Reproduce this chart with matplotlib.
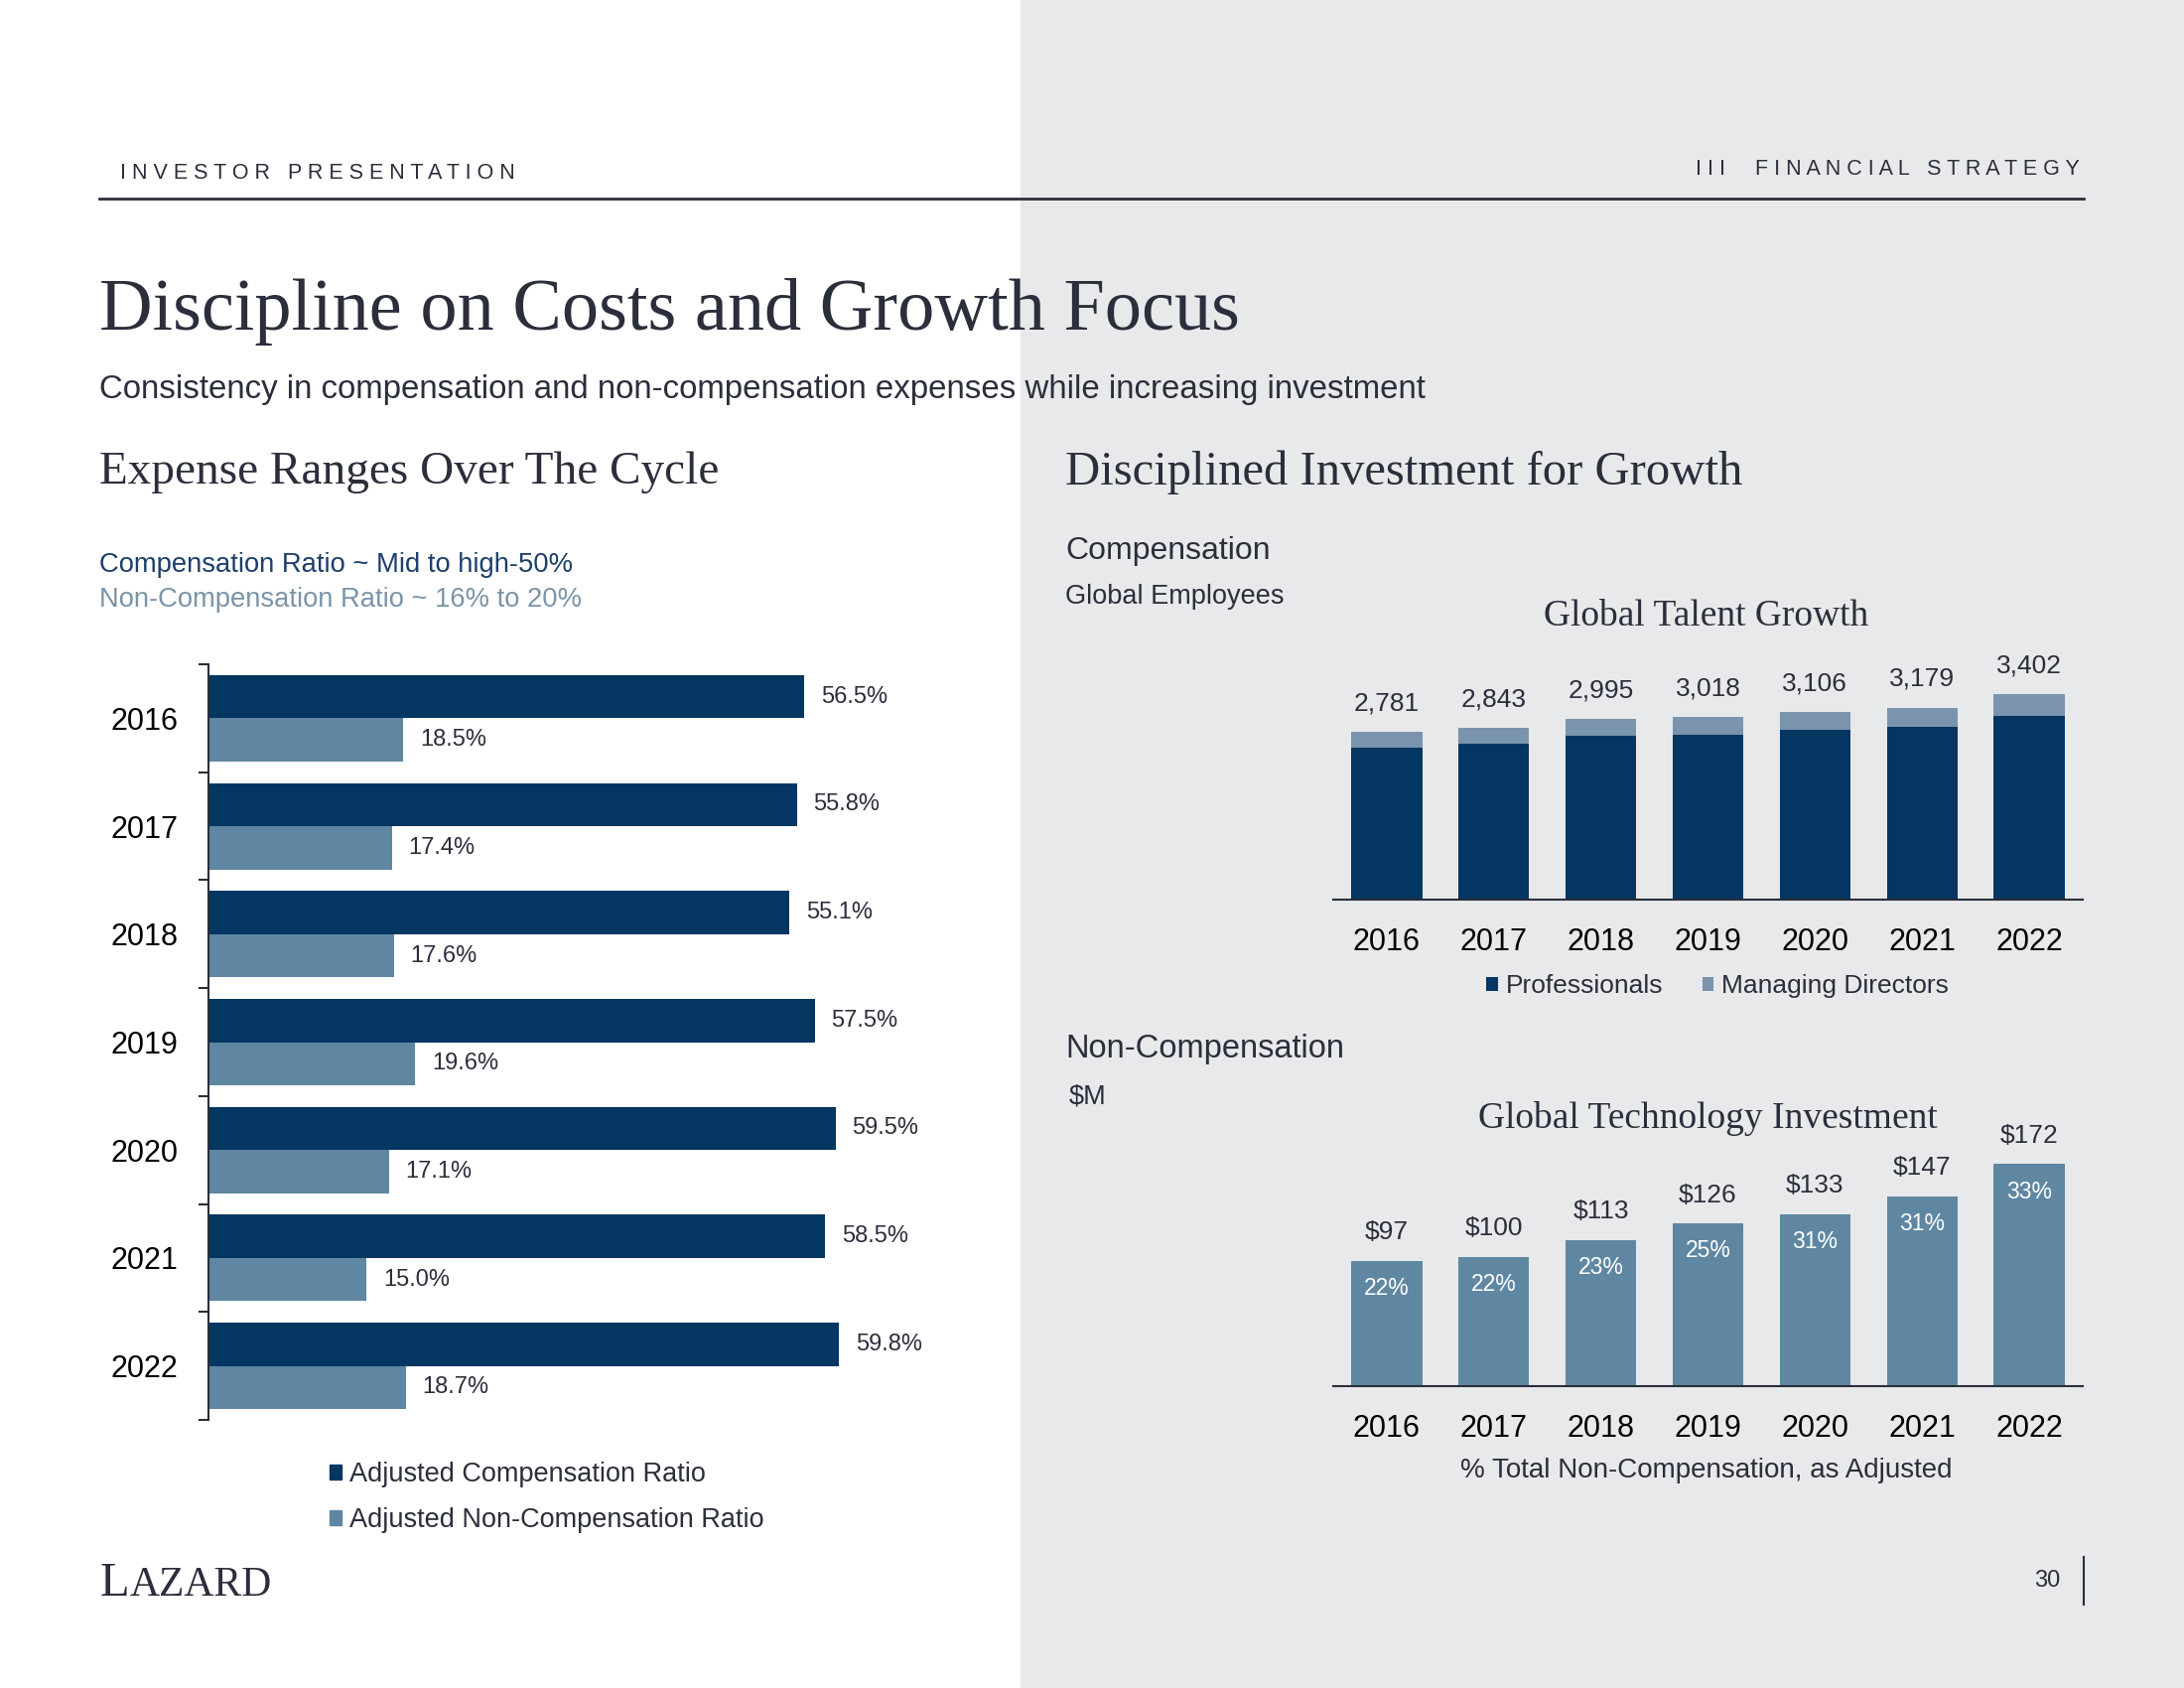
import numpy as np
import matplotlib
matplotlib.use('Agg')
import matplotlib.pyplot as plt
from matplotlib.patches import Rectangle, Patch

# data
years = ['2016', '2017', '2018', '2019', '2020', '2021', '2022']
comp_ratio = [56.5, 55.8, 55.1, 57.5, 59.5, 58.5, 59.8]
noncomp_ratio = [18.5, 17.4, 17.6, 19.6, 17.1, 15.0, 18.7]
employees_total = [2781, 2843, 2995, 3018, 3106, 3179, 3402]
managing_directors = [262, 262, 279, 284, 295, 317, 360]   # estimated from bar segments
tech_invest = [97, 100, 113, 126, 133, 147, 172]
tech_pct = [22, 22, 23, 25, 31, 31, 33]

NAVY = '#033661'
STEEL = '#5f87a2'
MDCOL = '#7a94ad'
TEXT = '#2b2e3b'
GRAY_BG = '#e8e9eb'
SANS = ['Liberation Sans', 'DejaVu Sans']
SERIF = ['Liberation Serif', 'DejaVu Serif']

plt.rcParams['font.family'] = SANS
plt.rcParams['text.color'] = TEXT

W, H = 2200, 1700


def fx(x):
    return x / W


def fy(y):
    return 1 - y / H


def box(x0, y0, x1, y1):
    return [fx(x0), fy(y1), (x1 - x0) / W, (y1 - y0) / H]


fig = plt.figure(figsize=(22, 17), dpi=100)
fig.patch.set_facecolor('white')
fig.add_artist(Rectangle((fx(1028), 0), 1 - fx(1028), 1, transform=fig.transFigure,
                         color=GRAY_BG, zorder=-10))

# header
fig.text(fx(121), fy(174), 'I N V E S T O R   P R E S E N T A T I O N', size=15.5, va='center')
fig.text(fx(2095), fy(171), 'I I I     F I N A N C I A L   S T R A T E G Y', size=15.5,
         va='center', ha='right')
fig.add_artist(plt.Line2D([fx(100), fx(2099)], [fy(200), fy(200)], transform=fig.transFigure,
                          color=TEXT, lw=2))

fig.text(fx(100), fy(314), 'Discipline on Costs and Growth Focus', size=53.5, family=SERIF,
         va='center')
fig.text(fx(100), fy(393), 'Consistency in compensation and non-compensation expenses while increasing investment',
         size=23.8, va='center')
fig.text(fx(100), fy(476), 'Expense Ranges Over The Cycle', size=34, family=SERIF, va='center')
fig.text(fx(1073), fy(476), 'Disciplined Investment for Growth', size=35, family=SERIF, va='center')

fig.text(fx(100), fy(569), 'Compensation Ratio ~ Mid to high-50%', size=19.7, color='#1d3f6b', va='center')
fig.text(fx(100), fy(604), 'Non-Compensation Ratio ~ 16% to 20%', size=19.7, color='#7b94a8', va='center')

fig.text(fx(1073), fy(555), 'Compensation', size=23, va='center')
fig.text(fx(1073), fy(601), 'Global Employees', size=19.5, va='center')
fig.text(fx(1073), fy(1057), 'Non-Compensation', size=23.5, va='center')
fig.text(fx(1077), fy(1104), '$M', size=19.5, va='center')

fig.text(fx(1719), fy(621), 'Global Talent Growth', size=27, family=SERIF, ha='center', va='center')
fig.text(fx(1720), fy(1126), 'Global Technology Investment', size=27, family=SERIF, ha='center', va='center')

pos = np.arange(len(years))

# left: horizontal ratio bars
ax1 = fig.add_axes(box(210, 669, 1110, 1430))
ax1.set_facecolor('none')
b1 = ax1.barh(pos - 0.2, comp_ratio, height=0.4, color=NAVY)
b2 = ax1.barh(pos + 0.2, noncomp_ratio, height=0.4, color=STEEL)
ax1.bar_label(b1, labels=['%.1f%%' % v for v in comp_ratio], padding=12, size=17)
ax1.bar_label(b2, labels=['%.1f%%' % v for v in noncomp_ratio], padding=12, size=17)
ax1.set_ylim(6.5, -0.5)
ax1.set_xlim(0, 900 / 10.62)
ax1.set_yticks(pos)
ax1.set_yticklabels(years, size=22)
ax1.set_yticks(np.arange(-0.5, 7, 1), minor=True)
ax1.tick_params(axis='y', which='major', length=0, pad=22)
ax1.tick_params(axis='y', which='minor', length=7, width=1.5, color=TEXT)
ax1.set_xticks([])
for s in ['top', 'right', 'bottom']:
    ax1.spines[s].set_visible(False)
ax1.spines['left'].set_color(TEXT)
ax1.spines['left'].set_linewidth(1.5)
ax1.legend(handles=[Patch(color=NAVY, label='Adjusted Compensation Ratio'),
                    Patch(color=STEEL, label='Adjusted Non-Compensation Ratio')],
           loc='upper left', bbox_to_anchor=(fx(332), fy(1472)), bbox_transform=fig.transFigure,
           frameon=False, fontsize=19.5, handlelength=0.45, handleheight=0.45,
           handletextpad=0.3, labelspacing=0.75, borderpad=0, borderaxespad=0)

# right top: employees stacked
pros = [t - m for t, m in zip(employees_total, managing_directors)]
ax2 = fig.add_axes(box(1343, 620, 2098, 906))
ax2.set_facecolor('none')
ax2.bar(pos, pros, width=0.66, color=NAVY, label='Professionals')
top = ax2.bar(pos, managing_directors, bottom=pros, width=0.66, color=MDCOL, label='Managing Directors')
ax2.bar_label(top, labels=['{:,}'.format(v) for v in employees_total], padding=12, size=19)
ax2.set_xlim(-0.5, 6.5)
ax2.set_ylim(0, 4700)
ax2.set_xticks(pos)
ax2.set_xticklabels(years, size=22)
ax2.tick_params(axis='x', length=0, pad=20)
ax2.set_yticks([])
for s in ['top', 'right', 'left']:
    ax2.spines[s].set_visible(False)
ax2.spines['bottom'].set_color(TEXT)
ax2.spines['bottom'].set_linewidth(1.5)
ax2.legend(loc='center', bbox_to_anchor=(fx(1730), fy(993)), bbox_transform=fig.transFigure,
           ncol=2, frameon=False, fontsize=19, handlelength=0.45, handleheight=0.45,
           handletextpad=0.3, columnspacing=1.5, borderpad=0)

# right bottom: technology investment
ax3 = fig.add_axes(box(1343, 1110, 2098, 1396))
ax3.set_facecolor('none')
b3 = ax3.bar(pos, tech_invest, width=0.66, color=STEEL)
ax3.bar_label(b3, labels=['$%d' % v for v in tech_invest], padding=12, size=19)
for i, (v, p) in enumerate(zip(tech_invest, tech_pct)):
    ax3.annotate('%d%%' % p, (i, v), xytext=(0, -20), textcoords='offset points',
                 ha='center', va='center', color='white', size=16.5)
ax3.set_xlim(-0.5, 6.5)
ax3.set_ylim(0, 220)
ax3.set_xticks(pos)
ax3.set_xticklabels(years, size=22)
ax3.tick_params(axis='x', length=0, pad=20)
ax3.set_yticks([])
for s in ['top', 'right', 'left']:
    ax3.spines[s].set_visible(False)
ax3.spines['bottom'].set_color(TEXT)
ax3.spines['bottom'].set_linewidth(1.5)
fig.text(fx(1719), fy(1481), '% Total Non-Compensation, as Adjusted', size=20, ha='center', va='center')

# footer
fig.text(fx(101), fy(1607), 'L', size=35, family=SERIF, va='baseline')
fig.text(fx(131), fy(1607), 'AZARD', size=30, family=SERIF, va='baseline')
fig.text(fx(2075), fy(1592), '30', size=17, ha='right', va='center')
fig.add_artist(plt.Line2D([fx(2099), fx(2099)], [fy(1568), fy(1616)], transform=fig.transFigure,
                          color=TEXT, lw=1.5))

fig.savefig('out.png', dpi=100)
